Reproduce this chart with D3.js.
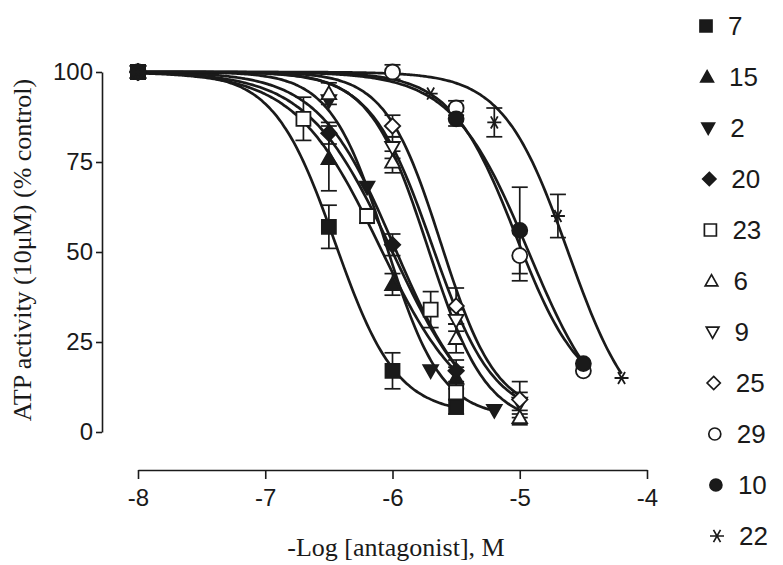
<!DOCTYPE html>
<html>
<head>
<meta charset="utf-8">
<script src="https://cdn.jsdelivr.net/npm/d3@7"></script>
<style>
  body { margin: 0; background: #fff; }
  .axis path, .axis line { stroke: #1a1a1a; stroke-width: 1.6px; }
  .axis text { font-family: "Liberation Sans", Arial, sans-serif; font-size: 24px; fill: #1a1a1a; }
  .title { font-family: "Liberation Serif", "Times New Roman", serif; fill: #1a1a1a; }
  .legend text { font-family: "Liberation Sans", Arial, sans-serif; font-size: 26px; fill: #1a1a1a; }
</style>
</head>
<body>
<div class="chart"></div>
<script>
// compounds, in legend order
const compounds = ["7", "15", "2", "20", "23", "6", "9", "25", "29", "10", "22"];

// points per compound: [-log M, % control, sem]
const pts7  = [[-8, 100, 0], [-6.5, 57, 6], [-6, 17, 5], [-5.5, 7, 2]];
const pts15 = [[-8, 100, 0], [-6.5, 76, 9], [-6, 41, 3], [-5.5, 15, 3]];
const pts2  = [[-8, 100, 0], [-6.5, 92, 0], [-6.2, 68, 0], [-5.7, 17, 0], [-5.2, 6, 0]];
const pts20 = [[-8, 100, 0], [-6.5, 83, 3], [-6, 52, 3], [-5.5, 17, 3]];
const pts23 = [[-8, 100, 0], [-6.7, 87, 6], [-6.2, 60, 2], [-5.7, 34, 5], [-5.5, 11, 2]];
const pts6  = [[-8, 100, 0], [-6.5, 94, 3], [-6, 75, 3], [-5.5, 26, 4], [-5, 4, 2]];
const pts9  = [[-8, 100, 0], [-6, 79, 3], [-5.5, 31, 3], [-5, 8, 3]];
const pts25 = [[-8, 100, 0], [-6, 85, 3], [-5.5, 35, 5], [-5, 9, 5]];
const pts29 = [[-8, 100, 0], [-6, 100, 2], [-5.5, 90, 2], [-5, 49, 7], [-4.5, 17, 0]];
const pts10 = [[-8, 100, 0], [-5.5, 87, 2], [-5, 56, 12], [-4.5, 19, 0]];
const pts22 = [[-8, 100, 0], [-5.7, 94, 0], [-5.2, 86, 4], [-4.7, 60, 6], [-4.2, 15, 0]];

// sigmoid fit (same order as compounds)
const fitLogIC50 = [-6.45, -6.1, -6.05, -5.98, -6.0, -5.72, -5.69, -5.62, -5.03, -4.93, -4.62];
const fitHill    = [1.8, 1.3, 2.0, 1.45, 1.3, 1.9, 1.8, 2.0, 1.7, 1.45, 1.7];
const fitBottom  = [5, 3, 4, 2, 0, 2, 4, 5, 9, 0, 0];

const xTicks = [-8, -7, -6, -5, -4];
const yTicks = [0, 25, 50, 75, 100];

const allPts = [pts7, pts15, pts2, pts20, pts23, pts6, pts9, pts25, pts29, pts10, pts22];

// marker style per compound
const shapes = ["square", "up", "down", "diamond", "square", "up", "down", "diamond", "circle", "circle", "star"];
const filled = [true, true, true, true, false, false, false, false, false, true, false];

const width = 783, height = 565;
const svg = d3.select(".chart").append("svg")
    .attr("width", width)
    .attr("height", height);

const xScale = d3.scaleLinear().domain([-8, -4]).range([138, 647]);
const yScale = d3.scaleLinear().domain([0, 100]).range([432, 72]);

function symbolPath(shape, s) {
    const h = s / 2;
    if (shape == "square") return `M${-h},${-h}H${h}V${h}H${-h}Z`;
    if (shape == "up") return `M0,${-h * 1.05}L${h * 1.05},${h * 0.8}L${-h * 1.05},${h * 0.8}Z`;
    if (shape == "down") return `M0,${h * 1.05}L${h * 1.05},${-h * 0.8}L${-h * 1.05},${-h * 0.8}Z`;
    if (shape == "diamond") return `M0,${-h * 1.1}L${h * 1.1},0L0,${h * 1.1}L${-h * 1.1},0Z`;
    if (shape == "circle") return `M${h},0A${h},${h},0,1,1,${-h},0A${h},${h},0,1,1,${h},0Z`;
    // asterisk: horizontal bar and two diagonals
    const u = h * 0.866, t = h * 0.5;
    return `M${-h},0H${h}M${-t},${-u}L${t},${u}M${-t},${u}L${t},${-u}`;
}

// axes
const yAxis = d3.axisLeft(yScale).tickValues(yTicks).tickSize(6).tickSizeOuter(0).tickPadding(3);
svg.append("g")
    .attr("class", "axis y-axis")
    .attr("transform", "translate(102,0)")
    .call(yAxis);

const xAxis = d3.axisBottom(xScale).tickValues(xTicks).tickSize(9).tickSizeOuter(0)
    .tickPadding(10).tickFormat(d => String(d));
svg.append("g")
    .attr("class", "axis x-axis")
    .attr("transform", "translate(0,470)")
    .call(xAxis);

svg.selectAll(".axis text").attr("font-size", null).attr("font-family", null);

svg.append("text")
    .attr("class", "title")
    .attr("transform", "translate(31,250) rotate(-90)")
    .attr("text-anchor", "middle")
    .attr("font-size", 26)
    .text("ATP activity (10\u03BCM) (% control)");

svg.append("text")
    .attr("class", "title")
    .attr("x", 396)
    .attr("y", 556)
    .attr("text-anchor", "middle")
    .attr("font-size", 26)
    .text("-Log [antagonist], M");

// fitted curves
const line = d3.line()
    .x(d => xScale(d[0]))
    .y(d => yScale(d[1]))
    .curve(d3.curveBasis);

allPts.forEach(function(pts, i) {
    const xEnd = pts[pts.length - 1][0];
    const curve = d3.range(-8, xEnd + 0.0001, 0.02).map(function(x) {
        const v = fitBottom[i] + (100 - fitBottom[i]) / (1 + Math.pow(10, fitHill[i] * (x - fitLogIC50[i])));
        return [x, v];
    });
    svg.append("path")
        .datum(curve)
        .attr("fill", "none")
        .attr("stroke", "#1a1a1a")
        .attr("stroke-width", 2.7)
        .attr("d", line);
});

// error bars
allPts.forEach(function(pts) {
    const eb = svg.append("g")
        .selectAll("g")
        .data(pts.filter(d => d[2] > 0))
        .enter()
        .append("g")
        .attr("stroke", "#1a1a1a")
        .attr("stroke-width", 1.7);
    eb.append("line")
        .attr("x1", d => xScale(d[0])).attr("x2", d => xScale(d[0]))
        .attr("y1", d => yScale(d[1] - d[2])).attr("y2", d => yScale(d[1] + d[2]));
    eb.append("line")
        .attr("x1", d => xScale(d[0]) - 8).attr("x2", d => xScale(d[0]) + 8)
        .attr("y1", d => yScale(d[1] + d[2])).attr("y2", d => yScale(d[1] + d[2]));
    eb.append("line")
        .attr("x1", d => xScale(d[0]) - 8).attr("x2", d => xScale(d[0]) + 8)
        .attr("y1", d => yScale(d[1] - d[2])).attr("y2", d => yScale(d[1] - d[2]));
});

// markers
allPts.forEach(function(pts, i) {
    svg.append("g")
        .selectAll("path")
        .data(pts)
        .enter()
        .append("path")
        .attr("transform", d => `translate(${xScale(d[0])},${yScale(d[1])})`)
        .attr("d", symbolPath(shapes[i], shapes[i] == "circle" ? 15 : 14))
        .attr("fill", shapes[i] == "star" ? "none" : (filled[i] ? "#1a1a1a" : "#fff"))
        .attr("stroke", "#1a1a1a")
        .attr("stroke-width", 1.8);
});

// legend
const legend = svg.selectAll(".legend")
    .data(compounds)
    .enter()
    .append("g")
    .attr("class", "legend")
    .attr("transform", (d, i) => `translate(${706 + i * 1.1},${26 + i * 51})`);

legend.append("path")
    .attr("d", (d, i) => symbolPath(shapes[i], shapes[i] == "star" ? 14 : 12))
    .attr("fill", (d, i) => shapes[i] == "star" ? "none" : (filled[i] ? "#1a1a1a" : "#fff"))
    .attr("stroke", "#1a1a1a")
    .attr("stroke-width", 1.7);

legend.append("text")
    .attr("x", 22)
    .attr("dy", "0.36em")
    .text(d => d);
</script>
</body>
</html>
